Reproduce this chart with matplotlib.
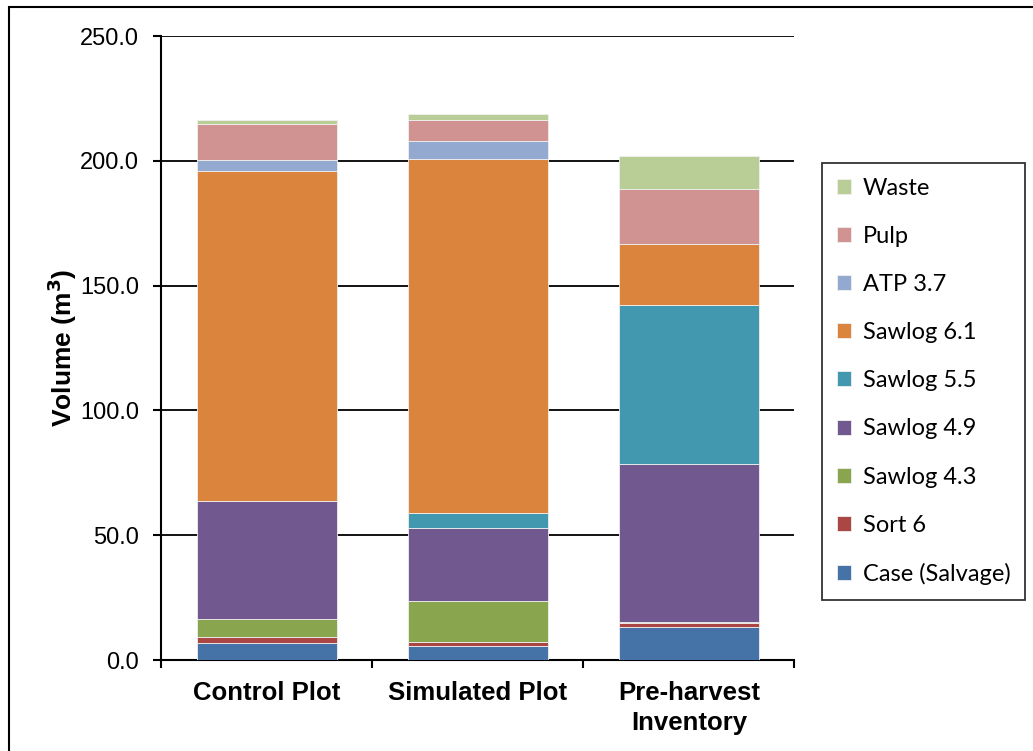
import numpy as np
import matplotlib.pyplot as plt
from matplotlib.patches import Rectangle

# Log volume by product sort, stacked per plot
plots = ["Control Plot", "Simulated Plot", "Pre-harvest\nInventory"]
sorts = ["Case (Salvage)", "Sort 6", "Sawlog 4.3", "Sawlog 4.9", "Sawlog 5.5",
         "Sawlog 6.1", "ATP 3.7", "Pulp", "Waste"]
case_salvage = [6.7, 5.5, 13.4]
sort_6 = [2.6, 1.6, 1.3]
sawlog_43 = [7.1, 16.5, 0.5]
sawlog_49 = [47.2, 29.3, 63.2]
sawlog_55 = [0.0, 5.9, 63.9]
sawlog_61 = [132.3, 142.1, 24.4]
atp_37 = [4.6, 7.0, 0.0]
pulp = [14.1, 8.6, 22.2]
waste = [1.9, 2.1, 13.0]
series = [case_salvage, sort_6, sawlog_43, sawlog_49, sawlog_55,
          sawlog_61, atp_37, pulp, waste]
colors = ["#4572A7", "#AA4643", "#89A54E", "#71588F", "#4198AF",
          "#DB843D", "#93A9CF", "#D19392", "#B9CD96"]

fig = plt.figure(figsize=(10.33, 7.51), dpi=100)
ax = fig.add_axes([0.156, 0.121, 0.613, 0.831])

index = np.arange(len(plots))
bottom = np.zeros(len(plots))
for name, vals, c in zip(sorts, series, colors):
    ax.bar(index, vals, width=0.665, bottom=bottom, color=c, label=name,
           edgecolor="#f0f0f0", linewidth=0.6, zorder=3)
    bottom += np.array(vals)

ax.set_xlim(-0.5, 2.5)
ax.set_ylim(0, 250)
ax.set_yticks(np.arange(0, 251, 50))
ax.set_yticklabels(["%.1f" % v for v in np.arange(0, 251, 50)],
                   fontsize=17, family="Liberation Sans")
ax.set_xticks(index)
ax.set_xticklabels(plots, fontsize=18.5, fontweight="bold",
                   family="Liberation Sans", linespacing=1.3)
ax.set_xticks([-0.5, 0.5, 1.5, 2.5], minor=True)
ax.tick_params(axis="x", which="major", length=0, pad=15)
ax.tick_params(axis="x", which="minor", length=6, width=1.5, direction="out")
ax.tick_params(axis="y", length=6, width=1.5, direction="out", pad=10)
ax.grid(axis="y", color="black", linewidth=1.3, zorder=0)
for s in ["top", "right"]:
    ax.spines[s].set_visible(False)
ax.spines["left"].set_linewidth(1.5)
ax.spines["bottom"].set_linewidth(1.5)
ax.set_ylabel("Volume (m$^\\mathbf{3}$)", fontsize=19, fontweight="bold",
              family="Liberation Sans", labelpad=0.5)

handles, labels = ax.get_legend_handles_labels()
leg = fig.legend(handles[::-1], labels[::-1], loc="upper left",
                 bbox_to_anchor=(0.796, 0.783), frameon=True, fancybox=False,
                 prop={"family": "Lato", "size": 17}, handlelength=0.6,
                 handleheight=0.6, handletextpad=0.5, labelspacing=1.15,
                 borderpad=0.62, borderaxespad=0)
leg.get_frame().set_edgecolor("black")
leg.get_frame().set_linewidth(1.3)

# chart border (right and bottom edges fall outside the image)
fig.patches.append(Rectangle((0.0087, -0.02), 1.1, 1.0107, transform=fig.transFigure,
                             fill=False, edgecolor="black", linewidth=1.5))

fig.savefig("out.png", dpi=100)
